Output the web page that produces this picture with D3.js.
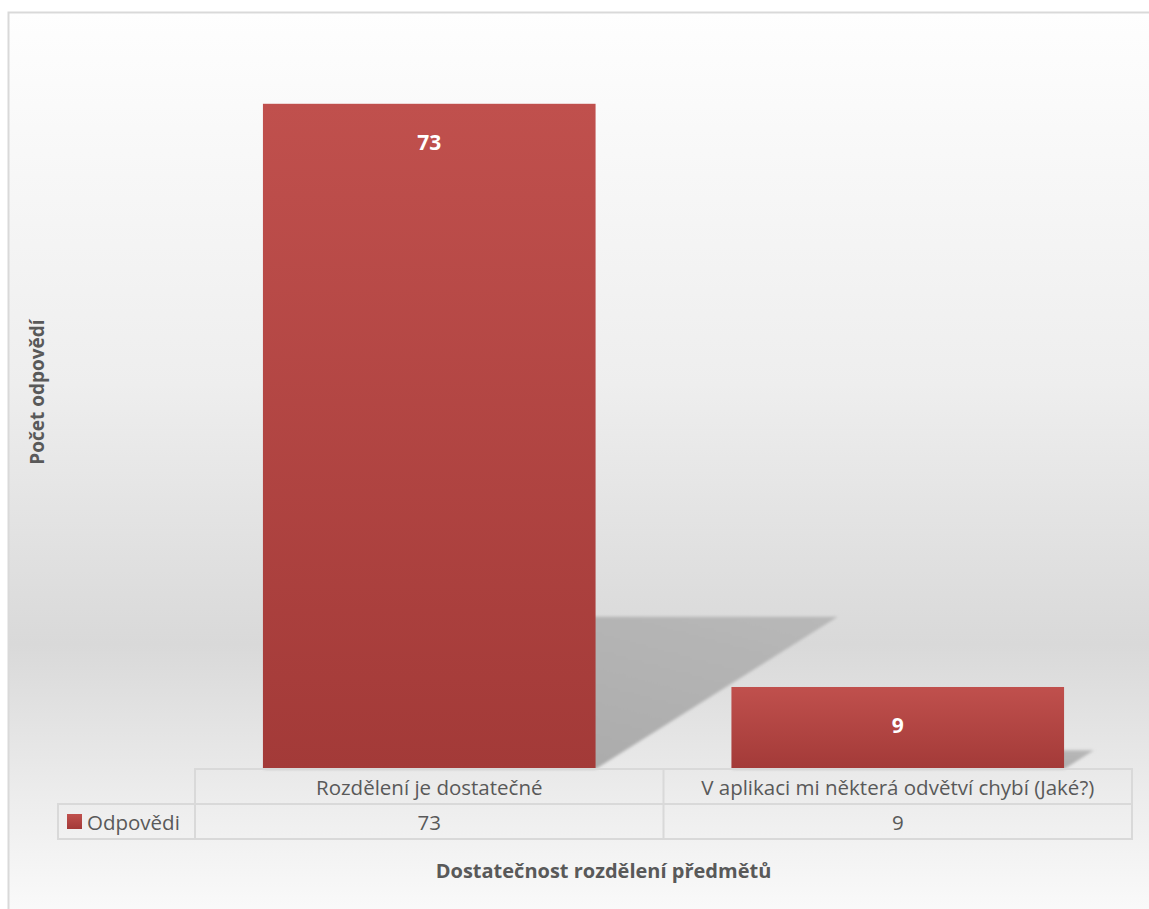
<!DOCTYPE html>
<html>
<head>
<meta charset="utf-8">
<script src="https://cdn.jsdelivr.net/npm/d3@7"></script>
<style>
  html, body { margin: 0; padding: 0; background: #fff; }
  svg { display: block; font-family: "Open Sans", sans-serif; }
</style>
</head>
<body>
<div id="chart"></div>
<script>
// Survey answers
var categories = ["Rozdělení je dostatečné", "V aplikaci mi některá odvětví chybí (Jaké?)"];
var values = [73, 9];
var seriesName = "Odpovědi";
var yTitle = "Počet odpovědí";
var xTitle = "Dostatečnost rozdělení předmětů";

var width = 1149, height = 909;
var plot = { left: 195, right: 1132, base: 769 };
var rowH = 35;
var textColor = "#595959";
var tableFont = 20.5;

var svg = d3.select("#chart").append("svg")
    .attr("width", width)
    .attr("height", height);

var defs = svg.append("defs");

// background gradient of the chart area
var bg = defs.append("linearGradient").attr("id", "bg")
    .attr("x1", 0).attr("y1", 0).attr("x2", 0).attr("y2", 1);
bg.append("stop").attr("offset", "0%").attr("stop-color", "#fefefe");
bg.append("stop").attr("offset", "40%").attr("stop-color", "#eeeeee");
bg.append("stop").attr("offset", "68%").attr("stop-color", "#d9d9d9");
bg.append("stop").attr("offset", "84%").attr("stop-color", "#ececec");
bg.append("stop").attr("offset", "100%").attr("stop-color", "#fdfdfd");

// bar fill
var barGrad = defs.append("linearGradient").attr("id", "barGrad")
    .attr("x1", 0).attr("y1", 0).attr("x2", 0).attr("y2", 1);
barGrad.append("stop").attr("offset", "0%").attr("stop-color", "#c0504d");
barGrad.append("stop").attr("offset", "100%").attr("stop-color", "#a33a38");

// shadow fill and blur
var shGrad = defs.append("linearGradient").attr("id", "shGrad")
    .attr("x1", 0).attr("y1", 1).attr("x2", 1).attr("y2", 0);
shGrad.append("stop").attr("offset", "0%").attr("stop-color", "#a6a6a6");
shGrad.append("stop").attr("offset", "100%").attr("stop-color", "#b8b8b8");
defs.append("filter").attr("id", "soft")
    .attr("x", "-10%").attr("y", "-10%").attr("width", "120%").attr("height", "120%")
  .append("feGaussianBlur").attr("stdDeviation", 1.6);

// chart frame
svg.append("rect")
    .attr("x", 8.5).attr("y", 12.5)
    .attr("width", width + 20).attr("height", height + 20)
    .attr("fill", "url(#bg)")
    .attr("stroke", "#d9d9d9")
    .attr("stroke-width", 2);

// scales
var x = d3.scaleBand()
    .domain(categories)
    .range([plot.left, plot.right])
    .padding(0);
var barW = x.bandwidth() * 0.71;

var y = d3.scaleLinear()
    .domain([0, 80])
    .range([plot.base, 40]);

// perspective shadows cast to the right of each bar
var skewX = 0.364, skewY = 0.229;
svg.append("g").attr("filter", "url(#soft)")
  .selectAll("polygon")
  .data(values)
  .join("polygon")
    .attr("fill", "url(#shGrad)")
    .attr("points", function(d, i) {
      var x0 = x(categories[i]) + (x.bandwidth() - barW) / 2;
      var h = plot.base - y(d);
      var dx = h * skewX, dy = h * skewY;
      return [
        [x0, plot.base],
        [x0 + barW, plot.base],
        [x0 + barW + dx, plot.base - dy],
        [x0 + dx, plot.base - dy]
      ].join(" ");
    });

// bars
svg.append("g").selectAll("rect")
  .data(values)
  .join("rect")
    .attr("x", function(d, i) { return x(categories[i]) + (x.bandwidth() - barW) / 2; })
    .attr("y", function(d) { return y(d); })
    .attr("width", barW)
    .attr("height", function(d) { return plot.base - y(d); })
    .attr("fill", "url(#barGrad)");

// value labels inside bar tops
svg.append("g").selectAll("text")
  .data(values)
  .join("text")
    .attr("x", function(d, i) { return x(categories[i]) + x.bandwidth() / 2; })
    .attr("y", function(d) { return y(d) + 38; })
    .attr("text-anchor", "middle")
    .attr("dominant-baseline", "central")
    .attr("fill", "#fff")
    .attr("font-weight", "bold")
    .attr("font-size", 21)
    .text(function(d) { return d; });

// data table under the axis
var legendLeft = 58;
var table = svg.append("g")
    .attr("fill", "none")
    .attr("stroke", "#d9d9d9")
    .attr("stroke-width", 2);
table.append("rect")
    .attr("x", plot.left).attr("y", plot.base)
    .attr("width", plot.right - plot.left).attr("height", rowH * 2);
table.append("rect")
    .attr("x", legendLeft).attr("y", plot.base + rowH)
    .attr("width", plot.left - legendLeft).attr("height", rowH);
table.append("line")
    .attr("x1", plot.left).attr("x2", plot.right)
    .attr("y1", plot.base + rowH).attr("y2", plot.base + rowH);
table.selectAll("line.col")
  .data(categories.slice(1))
  .join("line")
    .attr("class", "col")
    .attr("x1", function(d) { return x(d); })
    .attr("x2", function(d) { return x(d); })
    .attr("y1", plot.base).attr("y2", plot.base + rowH * 2);

// category labels
svg.append("g").selectAll("text")
  .data(categories)
  .join("text")
    .attr("x", function(d) { return x(d) + x.bandwidth() / 2; })
    .attr("y", plot.base + rowH / 2)
    .attr("text-anchor", "middle")
    .attr("dominant-baseline", "central")
    .attr("fill", textColor)
    .attr("font-size", tableFont)
    .text(function(d) { return d; });

// value row
svg.append("g").selectAll("text")
  .data(values)
  .join("text")
    .attr("x", function(d, i) { return x(categories[i]) + x.bandwidth() / 2; })
    .attr("y", plot.base + rowH * 1.5)
    .attr("text-anchor", "middle")
    .attr("dominant-baseline", "central")
    .attr("fill", textColor)
    .attr("font-size", tableFont)
    .text(function(d) { return d; });

// legend key
svg.append("rect")
    .attr("x", 67).attr("y", plot.base + rowH * 1.5 - 7.5)
    .attr("width", 15).attr("height", 15)
    .attr("fill", "url(#barGrad)");
svg.append("text")
    .attr("x", 87)
    .attr("y", plot.base + rowH * 1.5)
    .attr("dominant-baseline", "central")
    .attr("fill", textColor)
    .attr("font-size", tableFont)
    .text(seriesName);

// axis titles
svg.append("text")
    .attr("transform", "translate(37," + 392 + ") rotate(-90)")
    .attr("text-anchor", "middle")
    .attr("dominant-baseline", "central")
    .attr("fill", textColor)
    .attr("font-weight", "bold")
    .attr("font-size", 19)
    .text(yTitle);

svg.append("text")
    .attr("x", (plot.left + plot.right) / 2 - 60)
    .attr("y", 870)
    .attr("text-anchor", "middle")
    .attr("dominant-baseline", "central")
    .attr("fill", textColor)
    .attr("font-weight", "bold")
    .attr("font-size", 20)
    .text(xTitle);
</script>
</body>
</html>
